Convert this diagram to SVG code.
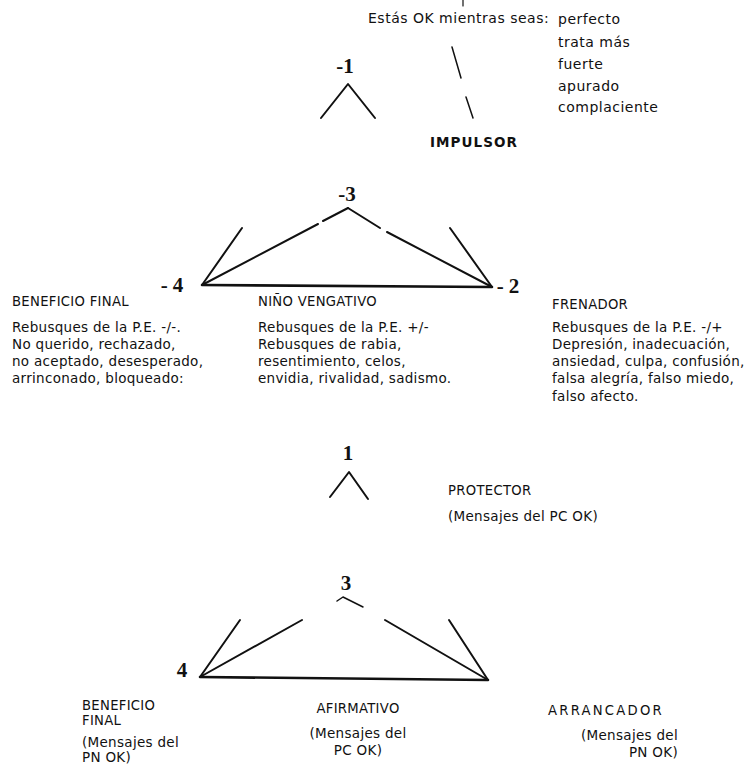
<svg xmlns="http://www.w3.org/2000/svg" width="756" height="771" viewBox="0 0 756 771">
<style>
.t{font-family:"DejaVu Sans","Liberation Sans",sans-serif;font-size:13.5px;letter-spacing:0.3px;fill:#111}
.w{font-family:"DejaVu Sans","Liberation Sans",sans-serif;font-size:14px;letter-spacing:0.5px;fill:#111}
.c{font-family:"DejaVu Sans","Liberation Sans",sans-serif;font-size:13.2px;letter-spacing:0.3px;fill:#111}
.h{font-family:"DejaVu Sans","Liberation Sans",sans-serif;font-size:13.5px;fill:#111;font-weight:bold}
.n{font-family:"Liberation Serif","DejaVu Serif",serif;font-size:21px;font-weight:bold;fill:#111}
.l{stroke:#111;stroke-width:2;fill:none;stroke-linecap:round;stroke-linejoin:round}
.b{stroke:#111;stroke-width:2.6;fill:none;stroke-linecap:round}
</style>
<rect width="756" height="771" fill="#fff"/>
<g id="connectors">
  <line class="l" x1="463" y1="0" x2="463" y2="6" style="stroke-width:1.2"/>
  <line class="l" x1="452" y1="47" x2="461" y2="78" style="stroke-width:1.5"/>
  <line class="l" x1="466" y1="97" x2="473" y2="118" style="stroke-width:1.5"/>
  <polyline class="l" points="321,118 348,84 375,118"/>
  <line class="l" x1="242" y1="228" x2="202" y2="285"/>
  <line class="l" x1="202" y1="285" x2="318" y2="224"/>
  <line class="l" x1="323" y1="221" x2="348" y2="208"/>
  <line class="l" x1="348" y1="208" x2="380" y2="228"/>
  <line class="l" x1="387" y1="232" x2="492" y2="287"/>
  <line class="l" x1="450" y1="228" x2="492" y2="287"/>
  <line class="b" x1="202" y1="285" x2="492" y2="287"/>
  <polyline class="l" points="330,497 349,472 368,499"/>
  <polyline class="l" points="337,601 343,597 363,607" style="stroke-width:1.5"/>
  <line class="l" x1="240" y1="620" x2="200" y2="677"/>
  <line class="l" x1="302" y1="620" x2="200" y2="677"/>
  <line class="l" x1="385" y1="620" x2="488" y2="680"/>
  <line class="l" x1="449" y1="620" x2="488" y2="680"/>
  <line class="b" x1="200" y1="677" x2="488" y2="680"/>
</g>
<g id="impulsor">
  <text class="w" x="368" y="23">Estás OK mientras seas:</text>
  <text class="w" x="558" y="24">perfecto</text>
  <text class="w" x="558" y="47">trata más</text>
  <text class="w" x="558" y="69">fuerte</text>
  <text class="w" x="558" y="91">apurado</text>
  <text class="w" x="558" y="112">complaciente</text>
  <text class="n" x="345" y="73" text-anchor="middle">-1</text>
  <text class="h" x="430" y="147" textLength="87">IMPULSOR</text>
</g>
<g id="nino-vengativo">
  <text class="n" x="347" y="201" text-anchor="middle">-3</text>
  <text class="c" x="258" y="306">NIÑO VENGATIVO</text>
  <text class="t" x="258" y="332">Rebusques de la P.E. +/-</text>
  <text class="t" x="258" y="349">Rebusques de rabia,</text>
  <text class="t" x="258" y="366">resentimiento, celos,</text>
  <text class="t" x="258" y="383">envidia, rivalidad, sadismo.</text>
</g>
<g id="beneficio-final-neg">
  <text class="n" x="172" y="292" text-anchor="middle">- 4</text>
  <text class="c" x="12" y="306">BENEFICIO FINAL</text>
  <text class="t" x="12" y="332">Rebusques de la P.E. -/-.</text>
  <text class="t" x="12" y="349">No querido, rechazado,</text>
  <text class="t" x="12" y="366">no aceptado, desesperado,</text>
  <text class="t" x="12" y="383">arrinconado, bloqueado:</text>
</g>
<g id="frenador">
  <text class="n" x="508" y="293" text-anchor="middle">- 2</text>
  <text class="c" x="552" y="309">FRENADOR</text>
  <text class="t" x="552" y="332">Rebusques de la P.E. -/+</text>
  <text class="t" x="552" y="349">Depresión, inadecuación,</text>
  <text class="t" x="552" y="366">ansiedad, culpa, confusión,</text>
  <text class="t" x="552" y="383">falsa alegría, falso miedo,</text>
  <text class="t" x="552" y="401">falso afecto.</text>
</g>
<g id="protector">
  <text class="n" x="348" y="460" text-anchor="middle">1</text>
  <text class="c" x="448" y="495">PROTECTOR</text>
  <text class="t" x="448" y="521">(Mensajes del PC OK)</text>
</g>
<g id="afirmativo">
  <text class="n" x="346" y="590" text-anchor="middle">3</text>
  <text class="c" x="358" y="713" text-anchor="middle">AFIRMATIVO</text>
  <text class="t" x="358" y="738" text-anchor="middle">(Mensajes del</text>
  <text class="t" x="358" y="755" text-anchor="middle">PC OK)</text>
</g>
<g id="beneficio-final-pos">
  <text class="n" x="182" y="677" text-anchor="middle">4</text>
  <text class="c" x="82" y="710">BENEFICIO</text>
  <text class="c" x="82" y="725">FINAL</text>
  <text class="t" x="82" y="747">(Mensajes del</text>
  <text class="t" x="82" y="762">PN OK)</text>
</g>
<g id="arrancador">
  <text class="c" x="548" y="715" textLength="114">ARRANCADOR</text>
  <text class="t" x="678" y="740" text-anchor="end">(Mensajes del</text>
  <text class="t" x="678" y="757" text-anchor="end">PN OK)</text>
</g>
</svg>
